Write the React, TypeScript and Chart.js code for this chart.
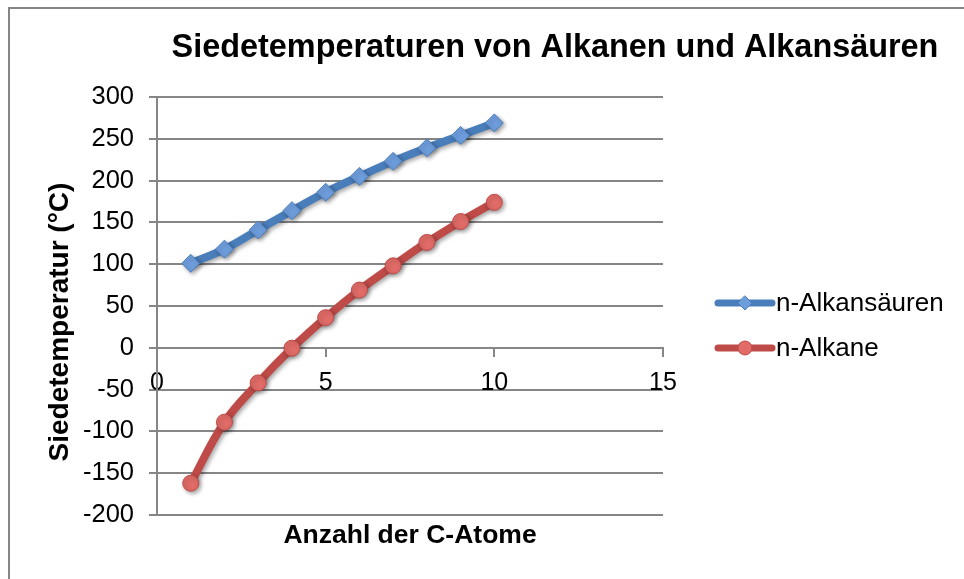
import React, { useEffect, useRef } from "react";
import { Chart, registerables } from "chart.js";

Chart.register(...registerables);

const carbonAtoms = [1, 2, 3, 4, 5, 6, 7, 8, 9, 10];
const acidBoiling = [101, 118, 141, 164, 186, 205, 223, 239, 254, 269];
const alkaneBoiling = [-162, -89, -42, -0.5, 36, 69, 98, 126, 151, 174];

const chartTitle = "Siedetemperaturen von Alkanen und Alkansäuren";
const xTitle = "Anzahl der C-Atome";
const yTitle = "Siedetemperatur (°C)";
const seriesNames = ["n-Alkansäuren", "n-Alkane"];

const BLUE = "#4A7EBB";
const BLUE_PT = "#6E9DDC";
const RED = "#BE4B48";
const RED_PT = "#E06B67";
const GRID = "#868686";
const FONT = "'Liberation Sans', Arial, sans-serif";

export default function App() {
  const ref = useRef<HTMLCanvasElement | null>(null);

  useEffect(() => {
    document.body.style.margin = "0";
    const canvas = ref.current;
    if (!canvas) return;

    const decor = {
      id: "decor",
      beforeDatasetsDraw(chart: any) {
        const ctx = chart.ctx;
        ctx.save();
        ctx.shadowColor = "rgba(0,0,0,0.35)";
        ctx.shadowBlur = 4;
        ctx.shadowOffsetX = 2;
        ctx.shadowOffsetY = 2;
      },
      afterDatasetsDraw(chart: any) {
        chart.ctx.restore();
      },
      afterDraw(chart: any) {
        const ctx = chart.ctx;
        const area = chart.chartArea;
        ctx.save();
        // outer border
        ctx.strokeStyle = GRID;
        ctx.lineWidth = 2;
        ctx.beginPath();
        ctx.moveTo(9, 600);
        ctx.lineTo(9, 8);
        ctx.lineTo(980, 8);
        ctx.stroke();

        ctx.fillStyle = "#000";
        ctx.textBaseline = "middle";
        ctx.textAlign = "center";
        // title
        ctx.font = `bold 32.4px ${FONT}`;
        ctx.fillText(chartTitle, 555, 48);
        // x title
        ctx.font = `bold 26.5px ${FONT}`;
        ctx.fillText(xTitle, (area.left + area.right) / 2, 536);
        // y title
        ctx.font = `bold 28px ${FONT}`;
        ctx.save();
        ctx.translate(60, 322);
        ctx.rotate(-Math.PI / 2);
        ctx.fillText(yTitle, 0, 0);
        ctx.restore();

        // legend
        const items = [
          { name: seriesNames[0], color: BLUE, pt: BLUE_PT, style: "diamond", y: 303 },
          { name: seriesNames[1], color: RED, pt: RED_PT, style: "circle", y: 348 },
        ];
        ctx.font = `26px ${FONT}`;
        ctx.textAlign = "left";
        items.forEach((it) => {
          ctx.strokeStyle = it.color;
          ctx.lineWidth = 7;
          ctx.lineCap = "round";
          ctx.beginPath();
          ctx.moveTo(718, it.y);
          ctx.lineTo(772, it.y);
          ctx.stroke();
          ctx.fillStyle = it.pt;
          ctx.strokeStyle = it.color;
          ctx.lineWidth = 1;
          ctx.beginPath();
          if (it.style === "diamond") {
            const r = 7;
            ctx.moveTo(745, it.y - r);
            ctx.lineTo(745 + r, it.y);
            ctx.lineTo(745, it.y + r);
            ctx.lineTo(745 - r, it.y);
            ctx.closePath();
          } else {
            ctx.arc(745, it.y, 7, 0, Math.PI * 2);
          }
          ctx.fill();
          ctx.stroke();
          ctx.fillStyle = "#000";
          ctx.fillText(it.name, 776, it.y + 1);
        });
        ctx.restore();
      },
    };

    const chart = new Chart(canvas, {
      type: "line",
      data: {
        datasets: [
          {
            label: seriesNames[0],
            data: carbonAtoms.map((x, i) => ({ x, y: acidBoiling[i] })),
            borderColor: BLUE,
            borderWidth: 8,
            backgroundColor: BLUE_PT,
            pointBackgroundColor: BLUE_PT,
            pointBorderColor: BLUE,
            pointBorderWidth: 1,
            pointStyle: "rectRot",
            pointRadius: 9,
            tension: 0.4,
            fill: false,
          },
          {
            label: seriesNames[1],
            data: carbonAtoms.map((x, i) => ({ x, y: alkaneBoiling[i] })),
            borderColor: RED,
            borderWidth: 8,
            backgroundColor: RED_PT,
            pointBackgroundColor: RED_PT,
            pointBorderColor: RED,
            pointBorderWidth: 1,
            pointStyle: "circle",
            pointRadius: 8,
            tension: 0.4,
            fill: false,
          },
        ],
      },
      options: {
        animation: false,
        responsive: true,
        maintainAspectRatio: false,
        layout: { padding: { top: 97, bottom: 64, right: 301, left: 0 } },
        plugins: {
          legend: { display: false },
          title: { display: false },
          tooltip: { enabled: false },
        },
        scales: {
          x: {
            type: "linear",
            position: { y: 0 } as any,
            min: 0,
            max: 15,
            ticks: {
              stepSize: 5,
              color: "#000",
              font: { family: FONT, size: 25 },
              padding: 12,
              maxRotation: 0,
            },
            grid: {
              drawOnChartArea: false,
              drawTicks: true,
              tickLength: 8,
              color: GRID,
              lineWidth: 2,
            },
            border: { color: GRID, width: 2 },
          },
          y: {
            type: "linear",
            min: -200,
            max: 300,
            afterFit(scale: any) {
              scale.width = 157;
            },
            ticks: {
              stepSize: 50,
              color: "#000",
              font: { family: FONT, size: 25.5 },
              padding: 15,
            },
            grid: {
              color: GRID,
              lineWidth: 2,
              tickLength: 8,
            },
            border: { color: GRID, width: 2 },
          },
        },
      },
      plugins: [decor],
    });

    return () => chart.destroy();
  }, []);

  return (
    <div style={{ position: "relative", width: 964, height: 579 }}>
      <canvas ref={ref} />
    </div>
  );
}
